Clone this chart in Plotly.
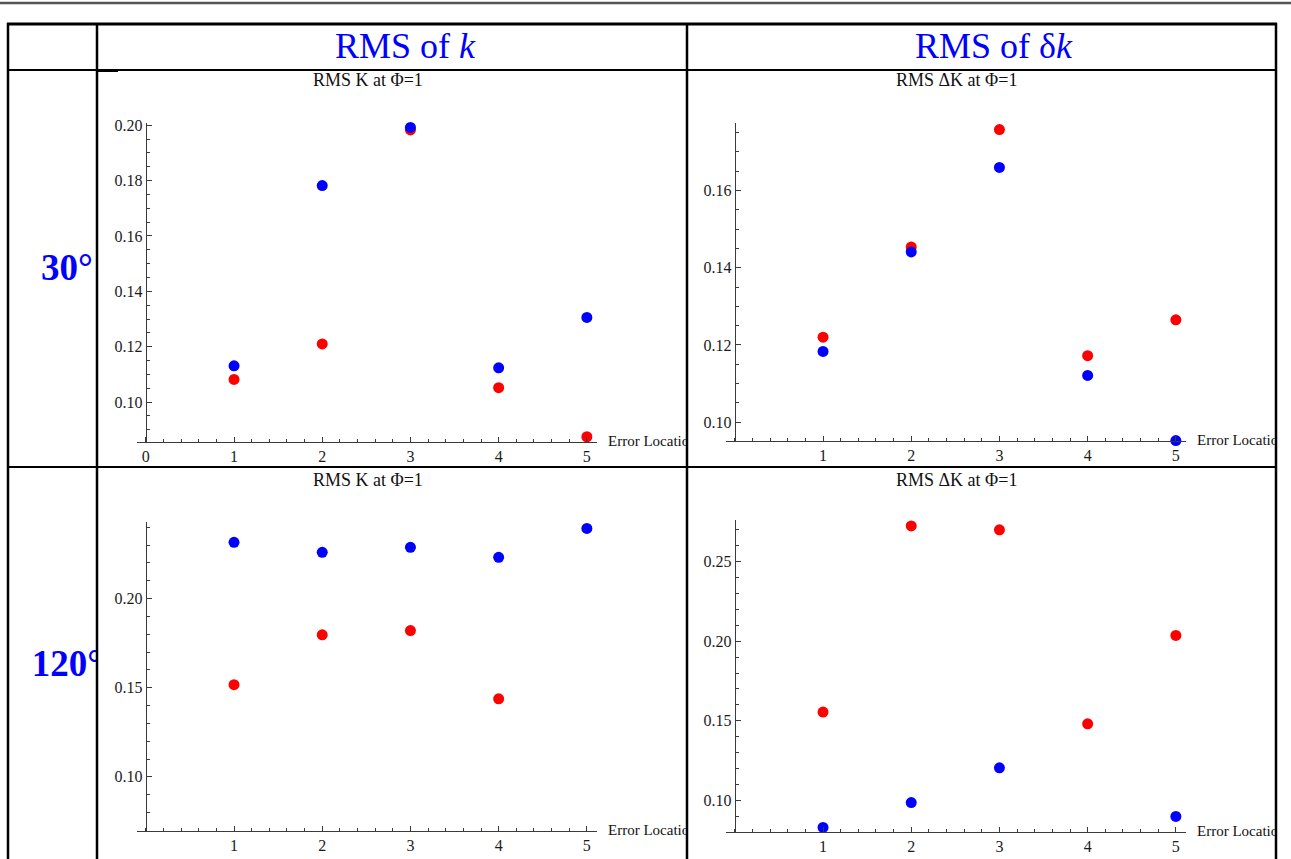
import plotly.graph_objects as go

W, H = 1291, 859

# ---------------- data ----------------
locations = [1, 2, 3, 4, 5]

# 30°, RMS of k
k30_red = [0.1082, 0.1210, 0.1983, 0.1052, 0.0875]
k30_blue = [0.1131, 0.1782, 0.1992, 0.1124, 0.1306]
# 30°, RMS of δk
dk30_red = [0.1220, 0.1454, 0.1758, 0.1172, 0.1265]
dk30_blue = [0.1183, 0.1441, 0.1660, 0.1121, 0.0952]
# 120°, RMS of k
k120_red = [0.1517, 0.1797, 0.1821, 0.1438, 0.0664]
k120_blue = [0.2316, 0.2260, 0.2288, 0.2232, 0.2394]
# 120°, RMS of δk
dk120_red = [0.1555, 0.2724, 0.2699, 0.1481, 0.2036]
dk120_blue = [0.0831, 0.0987, 0.1205, 0.0774, 0.0900]

col_headers = ["RMS of <i>k</i>", "RMS of δ<i>k</i>"]
row_labels = ["<b>30°</b>", "<b>120°</b>"]
panel_titles = ["RMS K at Φ=1", "RMS ΔK at Φ=1", "RMS K at Φ=1", "RMS ΔK at Φ=1"]
x_label = "Error Location"

# ---------------- layout geometry (pixels) ----------------
XRANGE = [-0.1, 5.115]
panels = [
    dict(red=k30_red, blue=k30_blue, xdom=(137, 597), ydom=(123, 442),
         yrange=[0.0856, 0.2008], dtick=0.02, minor=0.005, xticks=[0, 1, 2, 3, 4, 5],
         cell=((97, 687), (70, 467)), tpos=(368, 80)),
    dict(red=dk30_red, blue=dk30_blue, xdom=(726, 1186), ydom=(123, 441),
         yrange=[0.0951, 0.1775], dtick=0.02, minor=0.005, xticks=[1, 2, 3, 4, 5],
         cell=((687, 1276), (70, 467)), tpos=(956, 80)),
    dict(red=k120_red, blue=k120_blue, xdom=(137, 597), ydom=(522, 831),
         yrange=[0.0696, 0.2430], dtick=0.05, minor=0.01, xticks=[1, 2, 3, 4, 5],
         cell=((97, 687), (467, 859)), tpos=(368, 480)),
    dict(red=dk120_red, blue=dk120_blue, xdom=(726, 1186), ydom=(520, 832),
         yrange=[0.0802, 0.2761], dtick=0.05, minor=0.01, xticks=[1, 2, 3, 4, 5],
         cell=((687, 1276), (467, 859)), tpos=(956, 480)),
]
row_cells = [((8, 97), (70, 467), (67, 271)), ((8, 97), (467, 859), (67, 667))]

AX = "#3a3a3a"
SERIF = "Liberation Serif"
tick_font = dict(family=SERIF, size=16, color="#1a1a1a")


def px_x(p):
    return p / W


def px_y(p):
    return 1 - p / H


fig = go.Figure()
layout = dict(width=W, height=H,
              margin=dict(l=0, r=0, t=0, b=0, pad=0, autoexpand=False),
              paper_bgcolor="white", plot_bgcolor="rgba(0,0,0,0)",
              showlegend=False, shapes=[], annotations=[])

n = 0
for p in panels:
    n += 1
    sx = "" if n == 1 else str(n)
    x0, x1 = p["xdom"]
    yt, yb = p["ydom"]
    ypos_px = x0 + (0 - XRANGE[0]) / (XRANGE[1] - XRANGE[0]) * (x1 - x0)
    layout["xaxis" + sx] = dict(
        domain=[px_x(x0), px_x(x1)], range=XRANGE, anchor="y" + sx,
        showline=True, linecolor=AX, linewidth=1, showgrid=False, zeroline=False,
        ticks="inside", ticklen=5, tickcolor=AX, tickmode="array",
        tickvals=p["xticks"], ticktext=[str(v) for v in p["xticks"]],
        tickfont=tick_font, fixedrange=True, automargin=False,
        minor=dict(tickmode="linear", tick0=0, dtick=0.2, ticks="inside",
                   ticklen=3, tickcolor=AX, showgrid=False))
    layout["yaxis" + sx] = dict(
        domain=[px_y(yb), px_y(yt)], range=p["yrange"], anchor="free",
        position=px_x(ypos_px), showline=True, linecolor=AX, linewidth=1,
        showgrid=False, zeroline=False, ticks="inside", ticklen=5, tickcolor=AX,
        tickmode="linear", tick0=0, dtick=p["dtick"], tickformat=".2f",
        tickfont=tick_font, fixedrange=True, automargin=False,
        minor=dict(tickmode="linear", tick0=0, dtick=p["minor"], ticks="inside",
                   ticklen=3, tickcolor=AX, showgrid=False))
    for ys, col in ((p["red"], "#ff0000"), (p["blue"], "#0000ff")):
        fig.add_trace(go.Scatter(x=locations, y=ys, mode="markers",
                                 marker=dict(size=11, color=col),
                                 cliponaxis=False, hoverinfo="skip",
                                 xaxis="x" + sx, yaxis="y" + sx))
    layout["annotations"].append(dict(
        text=panel_titles[n - 1], x=px_x(p["tpos"][0]), y=px_y(p["tpos"][1]),
        xref="paper", yref="paper", xanchor="center", yanchor="middle",
        showarrow=False, font=dict(family=SERIF, size=18, color="#111")))

# clipping cells for text that must be cut at the table borders
def add_cell(cx, cy):
    global n
    n += 1
    sx = str(n)
    layout["xaxis" + sx] = dict(domain=[px_x(cx[0]), px_x(cx[1])], range=[cx[0], cx[1]],
                                anchor="y" + sx, visible=False, fixedrange=True,
                                automargin=False)
    layout["yaxis" + sx] = dict(domain=[px_y(cy[1]), px_y(cy[0])], range=[cy[1], cy[0]],
                                anchor="x" + sx, visible=False, fixedrange=True,
                                automargin=False)
    return sx


for p in panels:
    sx = add_cell(*p["cell"])
    ax_end = p["xdom"][1]
    fig.add_trace(go.Scatter(x=[ax_end + 11], y=[p["ydom"][1]], mode="text",
                             text=[x_label], textposition="middle right",
                             textfont=dict(family=SERIF, size=15, color="#111"),
                             cliponaxis=True, hoverinfo="skip",
                             xaxis="x" + sx, yaxis="y" + sx))

for (cx, cy, pos), lab in zip(row_cells, row_labels):
    sx = add_cell(cx, cy)
    fig.add_trace(go.Scatter(x=[pos[0]], y=[pos[1]], mode="text", text=[lab],
                             textposition="middle center",
                             textfont=dict(family=SERIF, size=37, color="#0000ff"),
                             cliponaxis=True, hoverinfo="skip",
                             xaxis="x" + sx, yaxis="y" + sx))

# column headers
for hx, txt in zip((405, 994), col_headers):
    layout["annotations"].append(dict(
        text=txt, x=px_x(hx), y=px_y(46), xref="paper", yref="paper",
        xanchor="center", yanchor="middle", showarrow=False,
        font=dict(family=SERIF, size=36, color="#0000ff")))

# table lines
def hline(y, xa, xb, w, c="black"):
    layout["shapes"].append(dict(type="line", xref="paper", yref="paper",
                                 x0=px_x(xa), x1=px_x(xb), y0=px_y(y), y1=px_y(y),
                                 line=dict(color=c, width=w), layer="above"))


def vline(x, ya, yb, w, c="black"):
    layout["shapes"].append(dict(type="line", xref="paper", yref="paper",
                                 x0=px_x(x), x1=px_x(x), y0=px_y(ya), y1=px_y(yb),
                                 line=dict(color=c, width=w), layer="above"))


hline(3, 0, W, 2.5, "#555555")
hline(24, 7, 1277, 3)
hline(70, 7, 1277, 2)
hline(70.5, 97, 118, 3)
hline(467, 7, 1277, 2)
for vx in (8, 97, 687, 1276):
    vline(vx, 23, H, 2.5)

fig.update_layout(**layout)
fig.write_html(
    "out.html",
    config={"displayModeBar": False, "staticPlot": True},
    post_script="document.body.style.margin='0';document.body.style.padding='0';"
                "document.body.style.overflow='hidden';",
)
